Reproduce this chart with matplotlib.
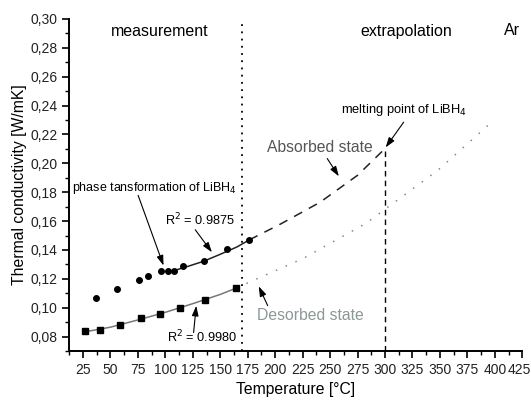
import matplotlib.pyplot as plt
import matplotlib.transforms as mtransforms
import numpy as np

plt.rcParams['font.family'] = ['Liberation Sans', 'DejaVu Sans']

# measured points
abs_T = [36.6, 56.3, 76.4, 84.6, 95.6, 102.3, 108.3, 116.0, 135.4, 156.4, 176.5]
abs_k = [0.1069, 0.1132, 0.1192, 0.1222, 0.1257, 0.1252, 0.1257, 0.1289, 0.1324, 0.1405, 0.1470]
des_T = [26.5, 40.5, 59.0, 78.2, 95.3, 113.2, 136.0, 164.4]
des_k = [0.0836, 0.0847, 0.0882, 0.0926, 0.0958, 0.0998, 0.1056, 0.1137]

# fitted curves
abs_fit_T = [106, 120, 135, 150, 165, 176.5]
abs_fit_k = [0.1253, 0.1285, 0.1322, 0.1370, 0.1420, 0.1470]
abs_ext_T = [176.5, 205, 241, 275, 300]
abs_ext_k = [0.1470, 0.1580, 0.1731, 0.1917, 0.2102]
des_fit_T = [27, 50, 75, 100, 125, 150, 165]
des_fit_k = [0.0833, 0.0865, 0.0915, 0.0968, 0.1028, 0.1092, 0.1137]
des_ext_T = [165, 173, 226, 283, 300.6, 348, 394]
des_ext_k = [0.1137, 0.1165, 0.1343, 0.1586, 0.1685, 0.1951, 0.2264]

x_ticks = np.arange(25, 426, 25)
y_ticks = np.arange(0.08, 0.301, 0.02)

fig = plt.figure(figsize=(5.31, 4.01), dpi=100)
ax = fig.add_axes([0.1305, 0.1247, 0.853, 0.828])

ax.plot(abs_fit_T, abs_fit_k, color='#222222', lw=1.1)
ax.plot(abs_ext_T, abs_ext_k, color='#222222', lw=1.1, dashes=(6, 5))
ax.plot(des_fit_T, des_fit_k, color='#777777', lw=1.1)
ax.plot(des_ext_T, des_ext_k, color='#888888', lw=1.1, dashes=(1, 6))
ax.plot(abs_T, abs_k, 'o', color='black', ms=4.0)
ax.plot(des_T, des_k, 's', color='black', ms=3.8)

ax.axvline(170, color='black', lw=1.3, dashes=(1, 3))
ax.plot([300, 300], [0.07, 0.2102], color='black', lw=1.0, dashes=(4, 3))

ax.set_xlim(12.5, 425)
ax.set_ylim(0.07, 0.30)
ax.set_xticks(x_ticks)
ax.set_xticks(np.arange(12.5, 425, 12.5), minor=True)
ax.set_yticks(y_ticks)
ax.set_yticks(np.arange(0.07, 0.301, 0.01), minor=True)
ax.set_yticklabels(['{:.2f}'.format(v).replace('.', ',') for v in y_ticks])
ax.tick_params(which='major', length=5, width=1.2, labelsize=10, labelcolor='#222222')
ax.tick_params(which='minor', length=3, width=1.0)
ax.spines['top'].set_visible(False)
ax.spines['right'].set_visible(False)
ax.spines['left'].set_linewidth(1.4)
ax.spines['bottom'].set_linewidth(1.4)

# nudge the last x tick label so it stays inside the picture
last = ax.get_xticklabels()[-1]
last.set_transform(last.get_transform() + mtransforms.ScaledTranslation(-3 / 100, 0, fig.dpi_scale_trans))

ax.set_xlabel('Temperature [°C]', fontsize=11.3)
ax.set_ylabel('Thermal conductivity [W/mK]', fontsize=11.3, labelpad=2)

ax.text(95, 0.291, 'measurement', fontsize=11.5, ha='center', va='center')
ax.text(319, 0.291, 'extrapolation', fontsize=11.5, ha='center', va='center')
ax.text(416, 0.292, 'Ar', fontsize=11.5, ha='center', va='center')

ax.text(317, 0.2368, 'melting point of LiBH$_4$', fontsize=9.3, ha='center', va='center')
ax.text(241, 0.211, 'Absorbed state', fontsize=11.3, color='#555555', ha='center', va='center')
ax.text(232, 0.0949, 'Desorbed state', fontsize=11.3, color='#8c9898', ha='center', va='center')
ax.text(90, 0.1826, 'phase tansformation of LiBH$_4$', fontsize=9.0, ha='center', va='center')
ax.text(132, 0.161, 'R$^2$ = 0.9875', fontsize=9.2, ha='center', va='center')
ax.text(134, 0.0799, 'R$^2$ = 0.9980', fontsize=9.2, ha='center', va='center')

# arrows: (start, end)
arrows = [((317, 0.2285), (300.6, 0.2110)),
          ((247.4, 0.2033), (258, 0.1910)),
          ((193.2, 0.1014), (185, 0.1148)),
          ((75.2, 0.1778), (98.3, 0.1292)),
          ((127.2, 0.1540), (142.4, 0.1384)),
          ((125.7, 0.0828), (128.1, 0.1013))]
style = dict(arrowstyle='-|>,head_length=0.6,head_width=0.2', color='black', lw=0.8, shrinkA=0, shrinkB=0)
for start, end in arrows:
    ax.annotate('', xy=end, xytext=start, arrowprops=style)

fig.savefig('out.png', dpi=100)
